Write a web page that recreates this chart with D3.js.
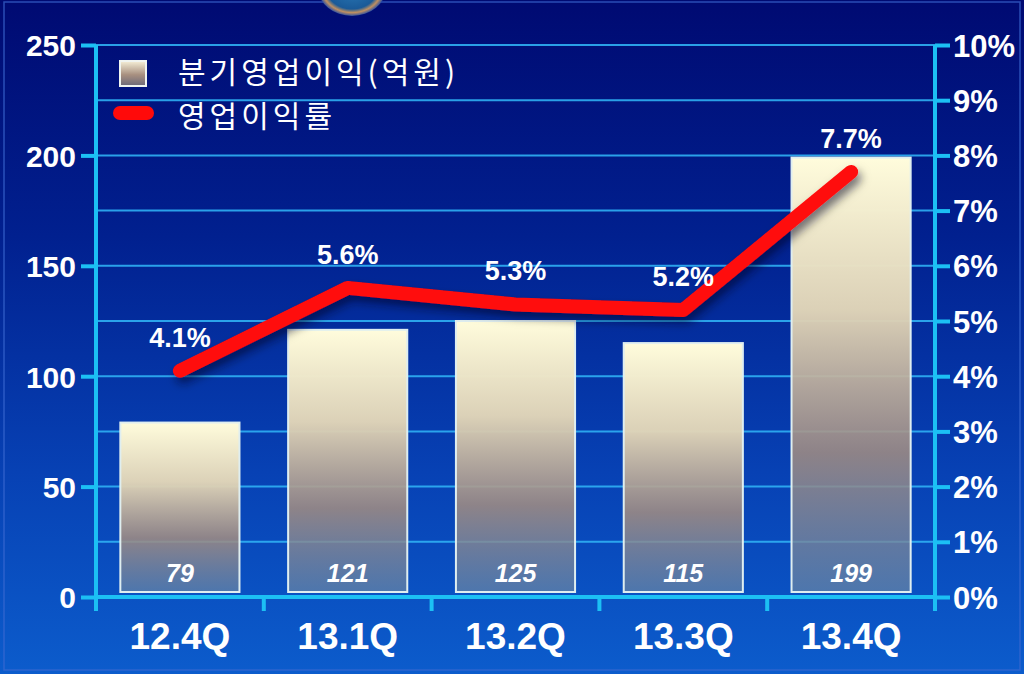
<!DOCTYPE html>
<html><head><meta charset="utf-8">
<script src="https://cdn.jsdelivr.net/npm/d3@7"></script>
<style>
html,body{margin:0;padding:0;background:#0a2a9a;}
svg{display:block;}
</style></head>
<body>
<svg id="chart" width="1024" height="674"></svg>
<script>
const categories = ["12.4Q","13.1Q","13.2Q","13.3Q","13.4Q"];
const profit = [79,121,125,115,199];          // 분기영업이익(억원)
const margin = [4.1,5.6,5.3,5.2,7.7];          // 영업이익률 (%)
const leftTicks = [0,50,100,150,200,250];
const rightTicks = [0,1,2,3,4,5,6,7,8,9,10];
const legendLabels = ["분기영업이익(억원)","영업이익률"];

const W=1024,H=674;
const svg=d3.select("#chart");
const defs=svg.append("defs");

const bg=defs.append("linearGradient").attr("id","bg").attr("x1",0).attr("y1",0).attr("x2",0).attr("y2",1);
bg.append("stop").attr("offset","0%").attr("stop-color","#000a72");
bg.append("stop").attr("offset","35%").attr("stop-color","#01208f");
bg.append("stop").attr("offset","70%").attr("stop-color","#0741b4");
bg.append("stop").attr("offset","100%").attr("stop-color","#0c5ccc");

const barG=defs.append("linearGradient").attr("id","barg").attr("x1",0).attr("y1",0).attr("x2",0).attr("y2",1);
barG.append("stop").attr("offset","0%").attr("stop-color","#fffcdc").attr("stop-opacity",1);
barG.append("stop").attr("offset","35%").attr("stop-color","#e2d6b8").attr("stop-opacity",0.97);
barG.append("stop").attr("offset","68%").attr("stop-color","#a08c82").attr("stop-opacity",0.88);
barG.append("stop").attr("offset","88%").attr("stop-color","#7c8698").attr("stop-opacity",0.78);
barG.append("stop").attr("offset","100%").attr("stop-color","#6a86a4").attr("stop-opacity",0.7);

const legG=defs.append("linearGradient").attr("id","legg").attr("x1",0).attr("y1",0).attr("x2",0).attr("y2",1);
legG.append("stop").attr("offset","0%").attr("stop-color","#f6f0d8");
legG.append("stop").attr("offset","55%").attr("stop-color","#a89080");
legG.append("stop").attr("offset","100%").attr("stop-color","#6a6878");

const sh=defs.append("filter").attr("id","shadow").attr("x","-20%").attr("y","-20%").attr("width","140%").attr("height","160%");
sh.append("feDropShadow").attr("dx",3).attr("dy",6).attr("stdDeviation",5).attr("flood-color","#000020").attr("flood-opacity",0.55);

const logoG=defs.append("radialGradient").attr("id","logo");
logoG.append("stop").attr("offset","0%").attr("stop-color","#2a7ab8");
logoG.append("stop").attr("offset","75%").attr("stop-color","#1a5a98");
logoG.append("stop").attr("offset","88%").attr("stop-color","#c09060");
logoG.append("stop").attr("offset","100%").attr("stop-color","#3050a0");

svg.append("rect").attr("width",W).attr("height",H).attr("fill","url(#bg)");
svg.append("rect").attr("x",4).attr("y",2).attr("width",W-8).attr("height",H-6)
  .attr("fill","none").attr("stroke","#3c6ad0").attr("stroke-width",1.5).attr("opacity",0.7);

// partial logo at top
svg.append("ellipse").attr("cx",352).attr("cy",-12).attr("rx",34).attr("ry",28).attr("fill","url(#logo)");

const L=96,R=935,T=45,B=597;
const x=d3.scaleBand().domain(categories).range([L,R]).paddingInner(0.29).paddingOuter(0.145);
const y=d3.scaleLinear().domain([0,250]).range([B,T]);
const y2=d3.scaleLinear().domain([0,10]).range([B,T]);

// gridlines (every 1%)
svg.append("g").selectAll("line").data(rightTicks.slice(1)).join("line")
  .attr("x1",L).attr("x2",R).attr("y1",d=>y2(d)).attr("y2",d=>y2(d))
  .attr("stroke","#2fb0f4").attr("stroke-width",2).attr("opacity",0.9);

// bars
svg.append("g").selectAll("rect").data(profit).join("rect")
  .attr("x",(d,i)=>x(categories[i])).attr("width",x.bandwidth())
  .attr("y",d=>y(d)).attr("height",d=>y(0)-5-y(d))
  .attr("fill","url(#barg)").attr("stroke","#dfeef0").attr("stroke-width",2);

// bar value labels
svg.append("g").selectAll("text").data(profit).join("text")
  .attr("x",(d,i)=>x(categories[i])+x.bandwidth()/2).attr("y",582)
  .attr("text-anchor","middle").attr("fill","#ffffff")
  .attr("font-family","Liberation Sans, Arial, sans-serif").attr("font-weight","bold").attr("font-style","italic")
  .attr("font-size",25).text(d=>d);

// axes
const axisColor="#1cc0f4";
const gl=svg.append("g").attr("transform",`translate(${L},0)`)
  .call(d3.axisLeft(y).tickValues(leftTicks).tickSize(15).tickPadding(5));
const gr=svg.append("g").attr("transform",`translate(${R},0)`)
  .call(d3.axisRight(y2).tickValues(rightTicks).tickSize(15).tickPadding(3).tickFormat(d=>d+"%"));
const gb=svg.append("g").attr("transform",`translate(0,${B})`)
  .call(d3.axisBottom(x).tickSize(0).tickPadding(26));
[gl,gr,gb].forEach(g=>{
  g.select(".domain").attr("stroke",axisColor).attr("stroke-width",4);
  g.selectAll(".tick line").attr("stroke",axisColor).attr("stroke-width",4);
  g.selectAll("text").attr("fill","#ffffff").attr("font-family","Liberation Sans, Arial, sans-serif")
   .attr("font-weight","bold");
});
gl.select(".domain").attr("d",`M0,${B+14}V${T}`);
gr.select(".domain").attr("d",`M0,${B+14}V${T}`);
gb.select(".domain").attr("d",`M${L-2},0H${R+2}`);
gl.selectAll("text").attr("font-size",30).attr("dy","0.36em");
gr.selectAll("text").attr("font-size",31).attr("dy","0.36em");
gb.selectAll("text").attr("font-size",37).attr("dy","0.71em").attr("y",26);
// bottom category boundary ticks
const bounds=categories.map(c=>x(c)-x.step()*x.paddingInner()/2).concat([R]);
gb.append("g").selectAll("line").data(bounds).join("line")
  .attr("x1",d=>d).attr("x2",d=>d).attr("y1",0).attr("y2",14)
  .attr("stroke",axisColor).attr("stroke-width",4);

// line
const cx=(d,i)=>x(categories[i])+x.bandwidth()/2;
svg.append("path").datum(margin)
  .attr("d",d3.line().x(cx).y(d=>y2(d)))
  .attr("fill","none").attr("stroke","#ff0a0a").attr("stroke-width",14)
  .attr("stroke-linecap","round").attr("stroke-linejoin","round")
  .attr("filter","url(#shadow)");

svg.append("g").selectAll("text").data(margin).join("text")
  .attr("x",cx).attr("y",d=>y2(d)-24)
  .attr("text-anchor","middle").attr("fill","#ffffff")
  .attr("font-family","Liberation Sans, Arial, sans-serif").attr("font-weight","bold")
  .attr("font-size",27).text(d=>d.toFixed(1)+"%");

// legend
svg.append("rect").attr("x",120).attr("y",61).attr("width",26).attr("height",25)
  .attr("fill","url(#legg)").attr("stroke","#f0f4f0").attr("stroke-width",2);
svg.append("line").attr("x1",120).attr("x2",147).attr("y1",113).attr("y2",113)
  .attr("stroke","#ff0a0a").attr("stroke-width",14).attr("stroke-linecap","round");
svg.append("g").selectAll("text").data(legendLabels).join("text")
  .attr("x",178).attr("y",(d,i)=>72+i*44).attr("dy","0.36em")
  .attr("fill","#ffffff").attr("font-family","Noto Sans CJK KR, sans-serif")
  .attr("font-size",30).attr("letter-spacing",4).text(d=>d);
</script>
</body></html>
